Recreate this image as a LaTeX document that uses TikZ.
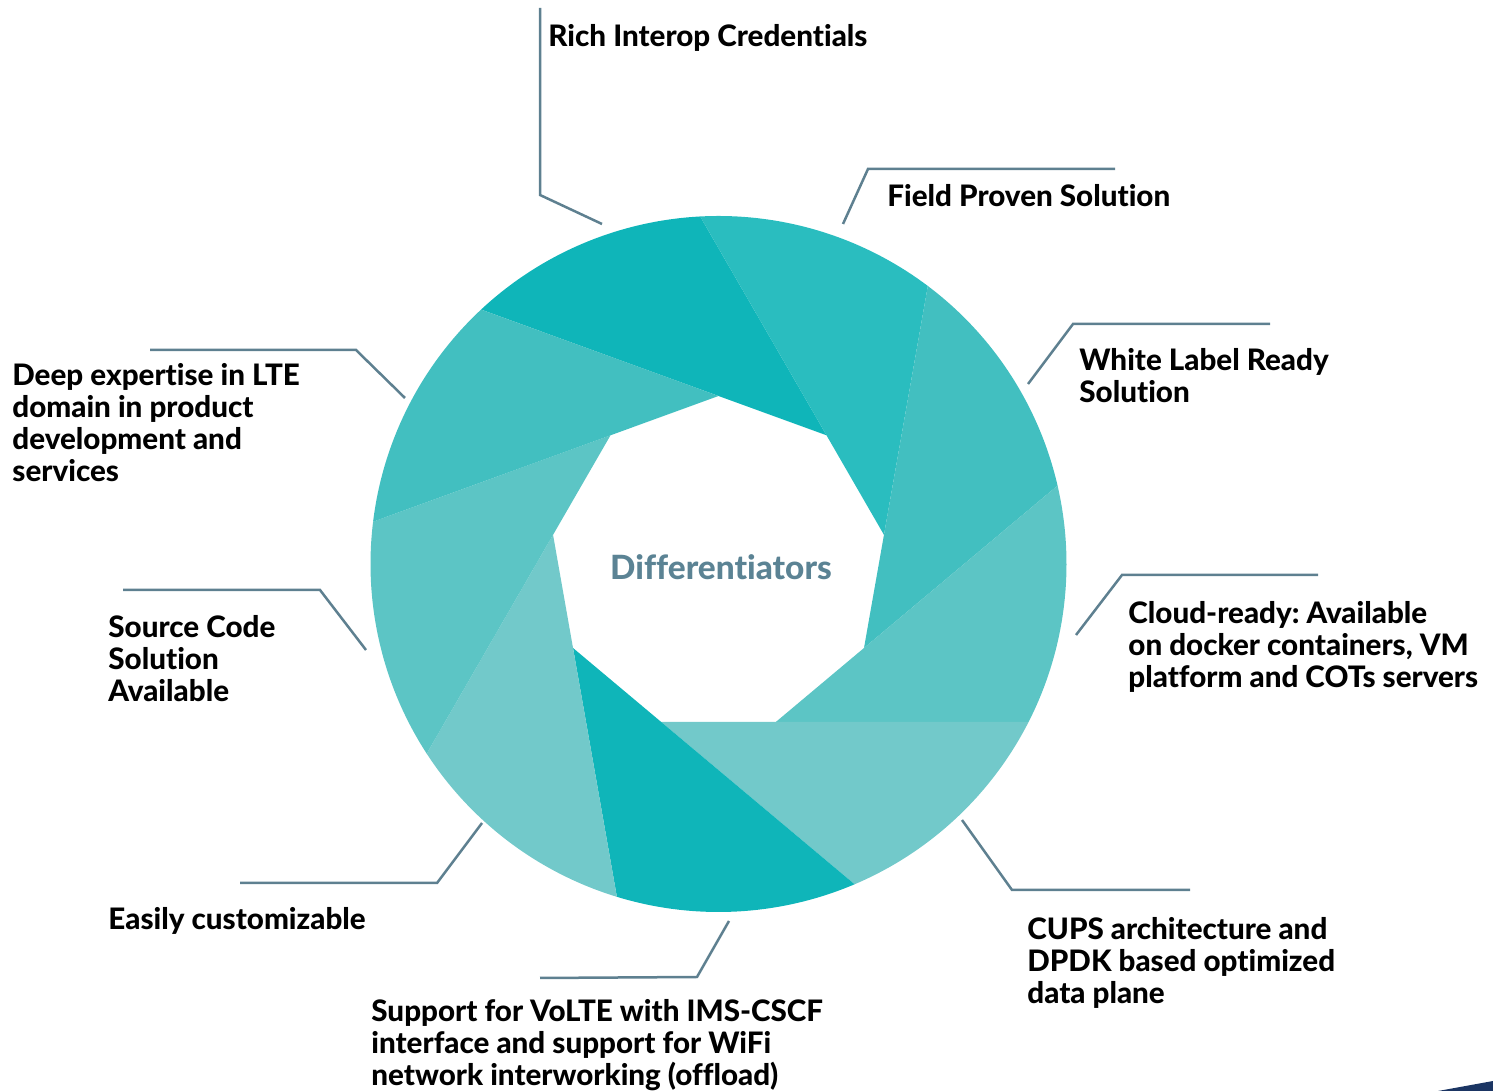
\documentclass[tikz,border=0pt]{standalone}
\usepackage{fontspec}
\setmainfont{Lato}[BoldFont={Lato Heavy}, Ligatures=NoCommon]
\frenchspacing
\usepackage{tikz}
\usetikzlibrary{calc}
\usetikzlibrary{positioning}

\definecolor{bladeA}{HTML}{0FB5B9}
\definecolor{bladeB}{HTML}{2ABDBF}
\definecolor{bladeC}{HTML}{42BFC0}
\definecolor{bladeD}{HTML}{5CC5C5}
\definecolor{bladeE}{HTML}{72C9CA}
\definecolor{leader}{HTML}{5E8090}
\definecolor{hubtext}{HTML}{5B8394}
\definecolor{navy}{HTML}{1B3563}

\tikzset{
  label text/.style={anchor=base west, inner sep=0pt, align=left, font=\fontsize{14.8}{16}\selectfont\bfseries},
  leader line/.style={draw=leader, line width=1.25pt},
}

\begin{document}
\begin{tikzpicture}[x=0.5pt, y=0.5pt]
        \useasboundingbox (0,0) rectangle (1493,1091);
        % aperture ring
        \def\R{348}
        \def\r{168}
        \pgfmathsetmacro\off{acos(\r*cos(20)/\R)-20}
        \begin{scope}[shift={(718.5,527)}]
            \foreach \t/\c in {90/bladeA, 50/bladeB, 10/bladeC, -30/bladeD, -70/bladeE, -110/bladeA, -150/bladeE, -190/bladeD, -230/bladeC}
                \fill[\c] (\t+\off:\R) -- (\t-40:\r) -- (\t-40+\off:\R) arc[start angle=\t-40+\off, end angle=\t+\off, radius=\R] -- cycle;
        \end{scope}
        \node (hub) at (721,524) [font=\fontsize{16.7}{18}\selectfont\bfseries, text=hubtext] {Differentiators};
        % labels (base = last line)
        \node (rich) at (548,1044) [label text] {Rich Interop Credentials};
        \node (field) at (887,884) [label text] {Field Proven Solution};
        \node (white) at (1079,688) [label text] {White Label Ready\\Solution};
        \node (cloud) at (1128,403) [label text] {Cloud-ready: Available\\on docker containers, VM\\platform and COTs servers};
        \node (cups) at (1027,87) [label text] {CUPS architecture and\\DPDK based optimized\\data plane};
        \node (volte) at (371,5) [label text] {Support for VoLTE with IMS-CSCF\\interface and support for WiFi\\network interworking (offload)};
        \node (easy) at (108,161) [label text] {Easily customizable};
        \node (source) at (108,389) [label text] {Source Code\\Solution\\Available};
        \node (deep) at (12,609) [label text] {Deep expertise in LTE\\domain in product\\development and\\services};
        % leader lines
        \coordinate (rich a) at (602,867);  \coordinate (rich b) at (540,896);  \coordinate (rich c) at (540,1083);
        \coordinate (field a) at (843,867); \coordinate (field b) at (868,922); \coordinate (field c) at (1115,922);
        \coordinate (white a) at (1028,707); \coordinate (white b) at (1073,767); \coordinate (white c) at (1270,767);
        \coordinate (cloud a) at (1076,456); \coordinate (cloud b) at (1122,516); \coordinate (cloud c) at (1318,516);
        \coordinate (cups a) at (962,271);  \coordinate (cups b) at (1012,201); \coordinate (cups c) at (1190,201);
        \coordinate (volte a) at (729,170); \coordinate (volte b) at (697,114); \coordinate (volte c) at (540,113);
        \coordinate (easy a) at (482,268);  \coordinate (easy b) at (437,208);  \coordinate (easy c) at (240,208);
        \coordinate (source a) at (366,441); \coordinate (source b) at (320,501); \coordinate (source c) at (123,501);
        \coordinate (deep a) at (405,693);  \coordinate (deep b) at (356,741);  \coordinate (deep c) at (150,741);
        \foreach \n in {rich, field, white, cloud, cups, volte, easy, source, deep}
            \draw [leader line] (\n\space a) -- (\n\space b) -- (\n\space c);
        % corner mark
        \fill[navy] (1438,0) -- (1493,10) -- (1493,0) -- cycle;
    \end{tikzpicture}
\end{document}
